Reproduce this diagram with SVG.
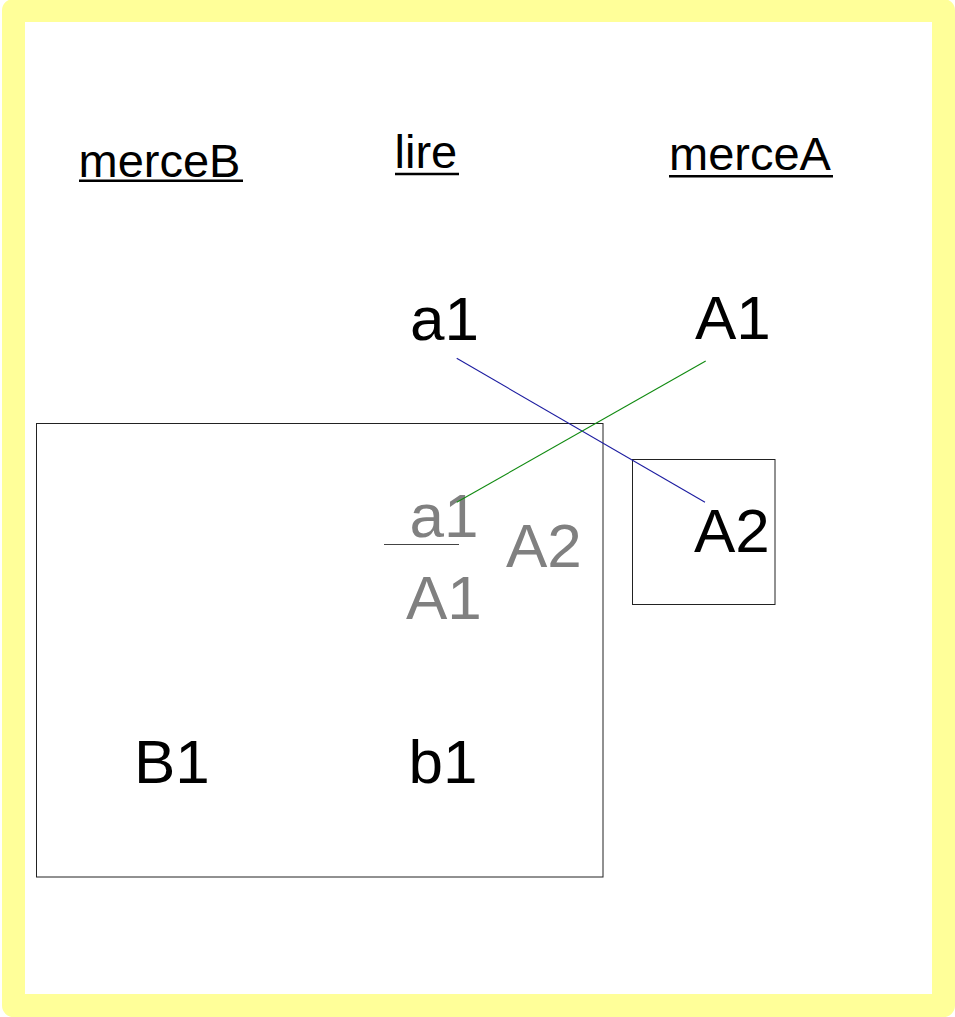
<svg xmlns="http://www.w3.org/2000/svg" width="955" height="1017" viewBox="0 0 955 1017">
<style>
text{font-family:"Liberation Sans",Arial,sans-serif;}
.hdr{fill:#000;font-size:47px;}
.big{font-size:62px;fill:#000;}
.gray{fill:#808080;}
.ul{stroke:#000;stroke-width:2.6;}
.box{fill:none;stroke:#222;stroke-width:1;}
</style>
<rect x="13.5" y="10.5" width="930" height="995" fill="#ffffff" stroke="#ffff99" stroke-width="23" stroke-linejoin="round"/>
<g id="header-merceB">
<text class="hdr" x="78.5" y="177">merceB</text>
<line class="ul" x1="79" y1="180.7" x2="243" y2="180.7"/>
</g>
<g id="header-lire">
<text class="hdr" x="394.5" y="168">lire</text>
<line class="ul" x1="395" y1="174" x2="459" y2="174"/>
</g>
<g id="header-merceA">
<text class="hdr" x="669" y="169.5">merceA</text>
<line class="ul" x1="669" y1="176.3" x2="833" y2="176.3"/>
</g>
<g id="group-B">
<rect class="box" x="36.5" y="423.5" width="566.5" height="453.5"/>
</g>
<g id="group-A2">
<rect class="box" x="632.5" y="459.5" width="142.5" height="145"/>
</g>
<g id="node-a1-top"><text class="big" x="410" y="340">a1</text></g>
<g id="node-A1-top"><text class="big" x="695" y="339">A1</text></g>
<g id="node-a1-gray">
<text class="big gray" x="409.5" y="537">a1</text>
<line x1="384" y1="544.5" x2="459" y2="544.5" stroke="#444" stroke-width="1.2"/>
</g>
<g id="node-A1-gray"><text class="big gray" x="406" y="619">A1</text></g>
<g id="node-A2-gray"><text class="big gray" x="506" y="567">A2</text></g>
<g id="node-A2"><text class="big" x="694" y="552">A2</text></g>
<g id="node-B1"><text class="big" x="134" y="783">B1</text></g>
<g id="node-b1"><text class="big" x="408.5" y="783">b1</text></g>
<g id="connectors">
<line x1="456.7" y1="358.3" x2="705" y2="502.3" stroke="#1c1ca0" stroke-width="1.1"/>
<line x1="705.7" y1="361" x2="456.7" y2="502.3" stroke="#108a10" stroke-width="1.1"/>
</g>
</svg>
